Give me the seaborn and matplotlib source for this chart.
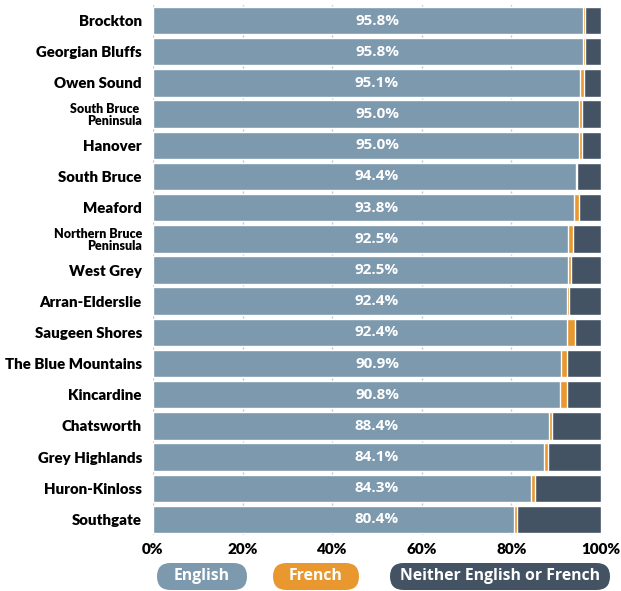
import matplotlib
matplotlib.use("Agg")
import matplotlib.pyplot as plt
from matplotlib.patches import FancyBboxPatch
import seaborn as sns
import pandas as pd
import numpy as np

categories = ["Brockton", "Georgian Bluffs", "Owen Sound", "South Bruce \nPeninsula", "Hanover",
              "South Bruce", "Meaford", "Northern Bruce\nPeninsula", "West Grey", "Arran-Elderslie",
              "Saugeen Shores", "The Blue Mountains", "Kincardine", "Chatsworth", "Grey Highlands",
              "Huron-Kinloss", "Southgate"]
english = [96.0, 96.0, 95.3, 95.1, 95.1, 94.4, 93.9, 92.6, 92.6, 92.4, 92.4, 91.1, 90.8, 88.4, 87.3, 84.4, 80.6]
french = [0.4, 0.4, 0.9, 0.7, 0.7, 0.2, 1.1, 1.1, 0.8, 0.4, 1.8, 1.3, 1.6, 0.7, 0.9, 0.9, 0.7]
neither = [round(100 - e - f, 1) for e, f in zip(english, french)]
labels = ["95.8%", "95.8%", "95.1%", "95.0%", "95.0%", "94.4%", "93.8%", "92.5%", "92.5%", "92.4%",
          "92.4%", "90.9%", "90.8%", "88.4%", "84.1%", "84.3%", "80.4%"]
xticks = [0, 20, 40, 60, 80, 100]
xticklabels = ["0%", "20%", "40%", "60%", "80%", "100%"]
legend_names = ["English", "French", "Neither English or French"]

C_EN = "#7c99ae"
C_FR = "#e8982f"
C_NE = "#445364"

df = pd.DataFrame({"cat": categories, "en": english, "fr": french, "ne": neither})
df["en_fr"] = df["en"] + df["fr"]
df["total"] = df["en_fr"] + df["ne"]

sns.set_style("white")
W, H = 621, 591
fig = plt.figure(figsize=(W / 100, H / 100), dpi=100)
ax = fig.add_axes([153 / W, 1 - 535 / H, (601 - 153) / W, (535 - 5) / H])

for x in xticks:
    ax.axvline(x, color="#c8c8c8", lw=1, zorder=0)

bh = 0.88
sns.barplot(data=df, y="cat", x="total", color=C_NE, width=bh, ax=ax, orient="h", saturation=1, zorder=2)
sns.barplot(data=df, y="cat", x="en_fr", color=C_FR, width=bh, ax=ax, orient="h", saturation=1, zorder=3)
sns.barplot(data=df, y="cat", x="en", color=C_EN, width=bh, ax=ax, orient="h", saturation=1, zorder=4)

for i, lab in enumerate(labels):
    ax.text(50, i, lab, ha="center", va="center", color="white", fontsize=11,
            fontweight="bold", family="Open Sans", zorder=5)

ax.set_xlim(0, 100)
ax.set_ylim(len(categories) - 0.5, -0.5)
ax.set_xlabel("")
ax.set_ylabel("")
ax.set_xticks(xticks)
ax.set_xticklabels(xticklabels)
ax.set_yticks(range(len(categories)))
ax.set_yticklabels(categories)
for s in ax.spines.values():
    s.set_visible(False)
ax.tick_params(axis="both", length=0)
ax.tick_params(axis="y", pad=8)
ax.tick_params(axis="x", pad=6)
for t in ax.get_xticklabels():
    t.set_fontfamily("Lato")
    t.set_fontweight("heavy")
    t.set_fontsize(11)
    t.set_color("black")
for t in ax.get_yticklabels():
    t.set_fontfamily("Lato")
    t.set_fontweight("heavy")
    t.set_color("black")
    if "\n" in t.get_text():
        t.set_fontsize(9)
        t.set_multialignment("right")
        t.set_linespacing(1.0)
    else:
        t.set_fontsize(10.8)

# legend pills
lax = fig.add_axes([0, 0, 1, 1], zorder=10)
lax.set_xlim(0, W)
lax.set_ylim(H, 0)
lax.axis("off")
pills = [(157, 247, C_EN), (273, 359, C_FR), (390, 610, C_NE)]
for (x0, x1, c), name in zip(pills, legend_names):
    y0, y1 = 563, 590
    r = (y1 - y0) / 2
    p = FancyBboxPatch((x0, y0), x1 - x0, y1 - y0,
                       boxstyle=f"round,pad=0,rounding_size={r}", fc=c, ec="none")
    lax.add_patch(p)
    lax.text((x0 + x1) / 2, (y0 + y1) / 2, name, ha="center", va="center", color="white",
             fontsize=11.3, fontweight="bold", family="Open Sans")

fig.savefig("out.png", dpi=100)
